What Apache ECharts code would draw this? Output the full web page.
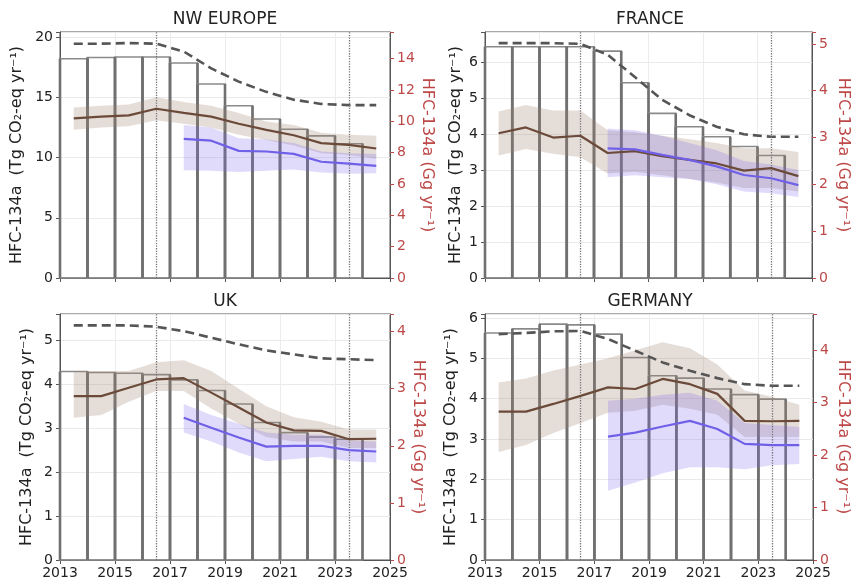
<!DOCTYPE html>
<html><head><meta charset="utf-8">
<script src="https://cdn.jsdelivr.net/npm/echarts@6/dist/echarts.min.js"></script>
<style>html,body{margin:0;padding:0;background:#fff}#c{width:852px;height:582px}</style>
</head><body><div id="c"></div>
<script>
// ---------- data ----------
const barYears  = [2013,2014,2015,2016,2017,2018,2019,2020,2021,2022,2023];
const lineYears = [2013.5,2014.5,2015.5,2016.5,2017.5,2018.5,2019.5,2020.5,2021.5,2022.5,2023.5,2024.5];
const blueYears = [2017.5,2018.5,2019.5,2020.5,2021.5,2022.5,2023.5,2024.5];
const dottedYears = [2016.5, 2023.5];
const xTicks = [2013,2015,2017,2019,2021,2023,2025];
const gwp = 1.3; // Tg CO2-eq per Gg HFC-134a

// NW Europe (Tg CO2-eq yr-1)
const nwBars    = [18.2,18.3,18.35,18.35,17.85,16.1,14.3,13.2,12.35,11.8,11.15];
const nwDashed  = [19.45,19.45,19.5,19.45,18.8,17.4,16.3,15.45,14.8,14.45,14.35,14.35];
const nwBrown   = [13.25,13.4,13.5,14.05,13.7,13.4,12.8,12.3,11.85,11.2,11.05,10.75];
const nwBrownHi = [14.15,14.3,14.4,15.0,14.6,14.3,13.7,13.0,12.7,12.05,11.9,11.8];
const nwBrownLo = [12.3,12.5,12.6,13.1,12.8,12.5,11.9,11.45,11.0,10.35,10.2,9.9];
const nwBlue    = [11.55,11.4,10.55,10.5,10.3,9.65,9.5,9.3];
const nwBlueHi  = [12.7,12.5,11.6,11.5,11.2,10.5,10.35,10.3];
const nwBlueLo  = [8.95,8.9,8.8,8.9,9.0,8.75,8.65,8.7];
const nwLeftTicks  = [0,5,10,15,20];
const nwRightTicks = [0,2,4,6,8,10,12,14];

// France
const frBars    = [6.42,6.42,6.42,6.42,6.3,5.42,4.57,4.2,3.92,3.65,3.4];
const frDashed  = [6.52,6.52,6.52,6.5,6.2,5.58,4.95,4.52,4.2,3.99,3.92,3.92];
const frBrown   = [4.02,4.18,3.9,3.95,3.47,3.52,3.38,3.28,3.18,2.98,3.05,2.83];
const frBrownHi = [4.62,4.8,4.65,4.65,4.1,4.05,3.95,3.85,3.75,3.6,3.6,3.5];
const frBrownLo = [3.4,3.58,3.45,3.35,2.9,2.95,2.85,2.75,2.65,2.5,2.5,2.4];
const frBlue    = [3.6,3.57,3.42,3.28,3.1,2.86,2.77,2.58];
const frBlueHi  = [4.15,4.1,3.95,3.75,3.55,3.25,3.15,3.0];
const frBlueLo  = [2.8,2.85,2.8,2.75,2.6,2.4,2.35,2.25];
const frLeftTicks  = [0,1,2,3,4,5,6];
const frRightTicks = [0,1,2,3,4,5];

// UK
const ukBars    = [4.29,4.27,4.25,4.22,4.1,3.86,3.55,3.13,2.9,2.8,2.75];
const ukDashed  = [5.34,5.34,5.34,5.31,5.21,5.06,4.91,4.77,4.68,4.59,4.57,4.55];
const ukBrown   = [3.73,3.73,3.92,4.11,4.14,3.81,3.47,3.13,2.95,2.94,2.75,2.76];
const ukBrownHi = [4.3,4.3,4.3,4.5,4.55,4.3,3.9,3.5,3.25,3.15,2.97,2.97];
const ukBrownLo = [3.24,3.3,3.6,3.85,3.85,3.45,3.1,2.8,2.7,2.7,2.55,2.55];
const ukBlue    = [3.24,3.01,2.79,2.58,2.6,2.6,2.5,2.47];
const ukBlueHi  = [3.55,3.3,3.1,2.9,2.85,2.85,2.72,2.7];
const ukBlueLo  = [2.9,2.7,2.45,2.25,2.3,2.35,2.25,2.22];
const ukLeftTicks  = [0,1,2,3,4,5];
const ukRightTicks = [0,1,2,3,4];

// Germany
const deBars    = [5.63,5.73,5.85,5.83,5.6,5.02,4.57,4.51,4.24,4.1,3.99];
const deDashed  = [5.6,5.63,5.67,5.68,5.48,5.19,4.9,4.69,4.51,4.36,4.32,4.32];
const deBrown   = [3.68,3.68,3.87,4.07,4.28,4.24,4.49,4.36,4.12,3.45,3.44,3.45];
const deBrownHi = [4.4,4.5,4.7,4.85,5.0,5.2,5.4,5.25,4.85,4.2,4.05,3.85];
const deBrownLo = [2.68,2.85,3.15,3.4,3.65,3.7,3.85,3.75,3.6,3.05,3.05,3.05];
const deBlue    = [3.06,3.16,3.31,3.45,3.25,2.88,2.85,2.85];
const deBlueHi  = [3.95,4.0,4.1,4.15,3.95,3.4,3.35,3.3];
const deBlueLo  = [1.72,1.92,2.15,2.3,2.3,2.25,2.35,2.38];
const deLeftTicks  = [0,1,2,3,4,5,6];
const deRightTicks = [0,1,2,3,4];

// ---------- layout / style ----------
const FONT = 'DejaVu Sans';
const C_BROWN = '#6b4a3a', C_BROWN_BAND = 'rgba(160,128,110,0.27)';
const C_BLUE = '#7060e8', C_BLUE_BAND = 'rgba(125,105,240,0.24)';
const C_RED = '#bd4848';

const panels = [
  {title:'NW EUROPE', left:60, top:32, ymax:20.42, li:5, ri:2, lt:nwLeftTicks, rt:nwRightTicks, showX:false, lg:35, rg:28,
   bars:nwBars, dashed:nwDashed, brown:nwBrown, bHi:nwBrownHi, bLo:nwBrownLo, blue:nwBlue, uHi:nwBlueHi, uLo:nwBlueLo},
  {title:'FRANCE', left:485, top:32, ymax:6.83, li:1, ri:1, lt:frLeftTicks, rt:frRightTicks, showX:false, lg:21, rg:23,
   bars:frBars, dashed:frDashed, brown:frBrown, bHi:frBrownHi, bLo:frBrownLo, blue:frBlue, uHi:frBlueHi, uLo:frBlueLo},
  {title:'UK', left:60, top:314, ymax:5.6, li:1, ri:1, lt:ukLeftTicks, rt:ukRightTicks, showX:true, lg:25, rg:20,
   bars:ukBars, dashed:ukDashed, brown:ukBrown, bHi:ukBrownHi, bLo:ukBrownLo, blue:ukBlue, uHi:ukBlueHi, uLo:ukBlueLo},
  {title:'GERMANY', left:485, top:314, ymax:6.1, li:1, ri:1, lt:deLeftTicks, rt:deRightTicks, showX:true, lg:26, rg:22,
   bars:deBars, dashed:deDashed, brown:deBrown, bHi:deBrownHi, bLo:deBrownLo, blue:deBlue, uHi:deBlueHi, uLo:deBlueLo}
];
const GW = 330, GH = 246;

function tickFmt(list){ return v => (list.some(t => Math.abs(t - v) < 1e-6) ? String(Math.round(v*1000)/1000) : ''); }

const grids=[], xAxes=[], yAxes=[], titles=[], series=[];
panels.forEach((p,i)=>{
  grids.push({left:p.left, top:p.top, width:GW, height:GH, show:true, borderColor:'#555', borderWidth:1, containLabel:false});
  titles.push({text:p.title, left:p.left+GW/2, top:p.top-21, textAlign:'center', padding:0,
    textStyle:{fontFamily:FONT, fontSize:17, fontWeight:'normal', color:'#222'}});
  xAxes.push({type:'value', gridIndex:i, min:2013, max:2025, interval:2,
    axisLine:{show:true, lineStyle:{color:'#555', width:1}},
    axisTick:{show:true, length:4, lineStyle:{color:'#555'}},
    axisLabel:{show:p.showX, margin:6, fontFamily:FONT, fontSize:14, color:'#222', formatter:tickFmt(xTicks)},
    splitLine:{show:true, lineStyle:{color:'#ececec', width:1}}});
  yAxes.push({type:'value', gridIndex:i, position:'left', min:0, max:p.ymax, interval:p.li,
    name:'HFC-134a  (Tg CO\u2082-eq yr\u207B\u00B9)', nameLocation:'middle', nameGap:p.lg,
    nameTextStyle:{fontFamily:FONT, fontSize:16, color:'#222'},
    axisLine:{show:true, lineStyle:{color:'#555', width:1}},
    axisTick:{show:true, length:4, lineStyle:{color:'#555'}},
    axisLabel:{margin:7, fontFamily:FONT, fontSize:14, color:'#222', formatter:tickFmt(p.lt)},
    splitLine:{show:true, lineStyle:{color:'#eaeaea', width:1}}});
  yAxes.push({type:'value', gridIndex:i, position:'right', min:0, max:p.ymax/gwp, interval:p.ri,
    name:'HFC-134a (Gg yr\u207B\u00B9)', nameLocation:'middle', nameGap:p.rg, nameRotate:-90,
    nameTextStyle:{fontFamily:FONT, fontSize:16, color:C_RED},
    axisLine:{show:true, lineStyle:{color:'#555', width:1}},
    axisTick:{show:true, length:4, lineStyle:{color:C_RED}},
    axisLabel:{margin:7, fontFamily:FONT, fontSize:14, color:C_RED, formatter:tickFmt(p.rt)},
    splitLine:{show:false}});
  const yl = 2*i;
  // bars spanning [year, year+1]
  series.push({type:'custom', xAxisIndex:i, yAxisIndex:yl, z:2, silent:true,
    data: barYears.map((y,k)=>[y, p.bars[k]]),
    renderItem:(params, api)=>{
      const x = api.value(0), v = api.value(1);
      const tl = api.coord([x, v]), br = api.coord([x+1, 0]);
      return {type:'group', children:[
        {type:'rect', shape:{x:tl[0], y:tl[1], width:br[0]-tl[0], height:br[1]-tl[1]},
          style:{fill:'none', stroke:'#8a8a8a', lineWidth:1.6}},
        {type:'line', shape:{x1:tl[0], y1:tl[1], x2:tl[0], y2:br[1]}, style:{stroke:'#707070', lineWidth:2.6}},
        {type:'line', shape:{x1:br[0], y1:tl[1], x2:br[0], y2:br[1]}, style:{stroke:'#707070', lineWidth:2.6}}
      ]};
    }});
  // bands
  const band = (xs, lo, hi, color)=>({type:'custom', xAxisIndex:i, yAxisIndex:yl, z:3, silent:true,
    data: xs.map((x,k)=>[x, lo[k], hi[k]]),
    renderItem:(params, api)=>{
      if (params.dataIndex !== 0) return null;
      const pts = [];
      xs.forEach((x,k)=>pts.push(api.coord([x, hi[k]])));
      for (let k=xs.length-1;k>=0;k--) pts.push(api.coord([xs[k], lo[k]]));
      return {type:'polygon', shape:{points:pts}, style:{fill:color}};
    }});
  series.push(band(lineYears, p.bLo, p.bHi, C_BROWN_BAND));
  series.push(band(blueYears, p.uLo, p.uHi, C_BLUE_BAND));
  // dashed line + dotted verticals
  series.push({type:'line', xAxisIndex:i, yAxisIndex:yl, z:4, symbol:'none', silent:true,
    data: lineYears.map((x,k)=>[x, p.dashed[k]]),
    lineStyle:{color:'#555', width:2.6, type:[9,5]},
    markLine:{silent:true, symbol:'none', label:{show:false},
      lineStyle:{type:'dotted', color:'#777', width:1.3},
      data: dottedYears.map(x=>({xAxis:x}))}});
  series.push({type:'line', xAxisIndex:i, yAxisIndex:yl, z:5, symbol:'none', silent:true,
    data: lineYears.map((x,k)=>[x, p.brown[k]]), lineStyle:{color:C_BROWN, width:2.2}});
  series.push({type:'line', xAxisIndex:i, yAxisIndex:yl, z:5, symbol:'none', silent:true,
    data: blueYears.map((x,k)=>[x, p.blue[k]]), lineStyle:{color:C_BLUE, width:2.2}});
});

const chart = echarts.init(document.getElementById('c'), null, {renderer:'canvas'});
chart.setOption({animation:false, backgroundColor:'#fff', textStyle:{fontFamily:FONT},
  title:titles, grid:grids, xAxis:xAxes, yAxis:yAxes, series:series});
</script></body></html>
